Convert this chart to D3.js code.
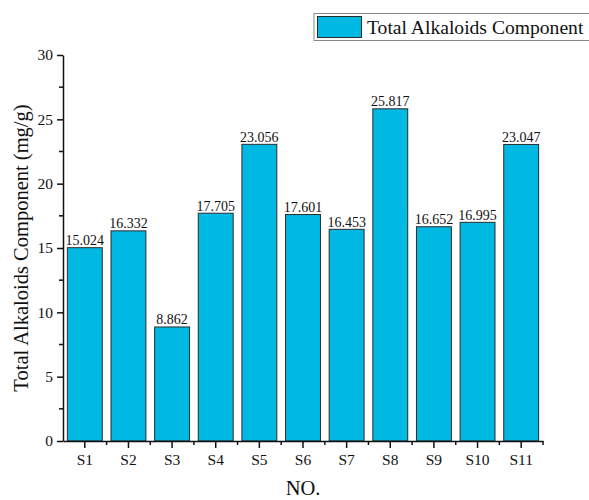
<!DOCTYPE html>
<html>
<head>
<meta charset="utf-8">
<script src="https://cdn.jsdelivr.net/npm/d3@7"></script>
<style>
  html, body { margin: 0; padding: 0; background: #fff; }
  svg { display: block; }
</style>
</head>
<body>
<svg id="chart" width="589" height="500"></svg>
<script>
// Sample labels and measured total alkaloid content (mg/g)
const samples = ["S1", "S2", "S3", "S4", "S5", "S6", "S7", "S8", "S9", "S10", "S11"];
const alkaloids = [15.024, 16.332, 8.862, 17.705, 23.056, 17.601, 16.453, 25.817, 16.652, 16.995, 23.047];
const yTicks = [0, 5, 10, 15, 20, 25, 30];
const yMinorTicks = [2.5, 7.5, 12.5, 17.5, 22.5, 27.5];
const seriesName = "Total Alkaloids Component";

const FONT = "'Liberation Serif', 'Times New Roman', serif";
const svg = d3.select("#chart");
const margin = { left: 63, right: 46, top: 55, bottom: 59 };
const W = 589, H = 500;

const x = d3.scaleBand()
  .domain(samples)
  .range([margin.left, W - margin.right])
  .paddingInner(0.2)
  .paddingOuter(0.1);

const y = d3.scaleLinear()
  .domain([0, 30])
  .range([H - margin.bottom, margin.top]);

const barColor = "#00b9e2";

// bars
svg.append("g").selectAll("rect")
  .data(samples)
  .join("rect")
  .attr("x", d => x(d))
  .attr("width", x.bandwidth())
  .attr("y", (d, i) => y(alkaloids[i]))
  .attr("height", (d, i) => y(0) - y(alkaloids[i]))
  .attr("fill", barColor)
  .attr("stroke", "#2b2b2b")
  .attr("stroke-width", 1);

// value labels
svg.append("g").selectAll("text")
  .data(samples)
  .join("text")
  .attr("x", d => x(d) + x.bandwidth() / 2)
  .attr("y", (d, i) => y(alkaloids[i]) - 2.5)
  .attr("text-anchor", "middle")
  .attr("font-family", FONT)
  .attr("font-size", 14)
  .attr("fill", "#111")
  .text((d, i) => alkaloids[i].toFixed(3));

// y axis
const yAxis = svg.append("g")
  .attr("transform", `translate(${margin.left},0)`)
  .call(d3.axisLeft(y).tickValues(yTicks).tickSize(6).tickPadding(4).tickSizeOuter(0));
yAxis.attr("font-family", FONT);
yAxis.selectAll("text").attr("font-size", 15.5).attr("font-family", FONT).attr("fill", "#111");
yAxis.selectAll("line, path").attr("stroke", "#111").attr("stroke-width", 1.5);
yAxis.append("g").selectAll("line")
  .data(yMinorTicks)
  .join("line")
  .attr("x1", -4).attr("x2", 0)
  .attr("y1", d => y(d)).attr("y2", d => y(d))
  .attr("stroke", "#111").attr("stroke-width", 1.5);

// x axis
const xAxis = svg.append("g")
  .attr("transform", `translate(0,${y(0)})`)
  .call(d3.axisBottom(x).tickSize(7).tickPadding(6).tickSizeOuter(0));
xAxis.attr("font-family", FONT);
xAxis.selectAll("text").attr("font-size", 15.5).attr("font-family", FONT).attr("fill", "#111");
xAxis.selectAll("line, path").attr("stroke", "#111").attr("stroke-width", 1.5);
// minor ticks at band boundaries
const step = x.step();
const boundaries = samples.slice(1).map(d => x(d) - step * x.paddingInner() / 2)
  .concat([W - margin.right]);
xAxis.append("g").selectAll("line")
  .data(boundaries)
  .join("line")
  .attr("x1", d => d).attr("x2", d => d)
  .attr("y1", 0).attr("y2", 4)
  .attr("stroke", "#111").attr("stroke-width", 1.5);

// axis titles
svg.append("text")
  .attr("x", 303)
  .attr("y", 495)
  .attr("text-anchor", "middle")
  .attr("font-family", FONT)
  .attr("font-size", 20.5)
  .attr("fill", "#111")
  .text("NO.");

svg.append("text")
  .attr("transform", `translate(28,${(margin.top + H - margin.bottom) / 2}) rotate(-90)`)
  .attr("text-anchor", "middle")
  .attr("font-family", FONT)
  .attr("font-size", 20.5)
  .attr("fill", "#111")
  .text("Total Alkaloids Component (mg/g)");

// legend
const legend = svg.append("g");
legend.append("rect")
  .attr("x", 314).attr("y", 13.5)
  .attr("width", 300).attr("height", 27)
  .attr("fill", "#fff").attr("stroke", "#888").attr("stroke-width", 1);
legend.append("rect")
  .attr("x", 317.5).attr("y", 16.5)
  .attr("width", 44).attr("height", 21)
  .attr("fill", barColor).attr("stroke", "#2b2b2b").attr("stroke-width", 1);
legend.append("text")
  .attr("x", 367).attr("y", 34)
  .attr("font-family", FONT)
  .attr("font-size", 19.6)
  .attr("fill", "#111")
  .text(seriesName);
</script>
</body>
</html>
